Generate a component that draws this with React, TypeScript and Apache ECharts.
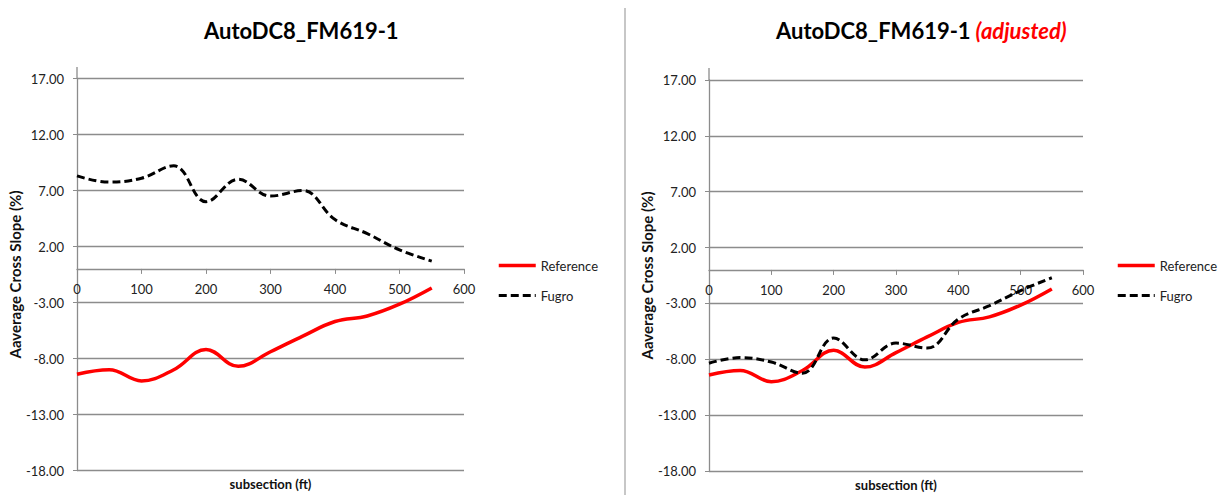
import React, { useEffect, useRef } from "react";
import * as echarts from "echarts";

// Subsection stations (ft)
const subsection = [0, 50, 100, 150, 200, 250, 300, 350, 400, 450, 500, 550];

// Average cross slope (%) per subsection
const referenceSlope = [-9.4, -9.0, -10.0, -9.0, -7.2, -8.7, -7.4, -6.0, -4.7, -4.2, -3.15, -1.7];
const fugroSlope = [8.3, 7.75, 8.1, 9.2, 6.0, 8.0, 6.5, 7.0, 4.4, 3.15, 1.7, 0.7];
const fugroAdjustedSlope = [-8.35, -7.85, -8.25, -9.25, -6.1, -8.05, -6.55, -7.0, -4.4, -3.2, -1.85, -0.7];

// Value-axis range and step
const Y_MIN = -18;
const Y_MAX = 17;
const Y_STEP = 5;

const titleText = "AutoDC8_FM619-1";
const adjustedTag = "(adjusted)";
const yAxisTitle = "Aaverage Cross Slope (%)";
const xAxisTitle = "subsection (ft)";
const seriesNames = ["Reference", "Fugro"];

const FONT = 'Lato, "Open Sans", "Noto Sans", sans-serif';
const GRID_GRAY = "#8c8c8c";

const grids = [
  { left: 77, top: 78.5, width: 387, height: 392 },
  { left: 709, top: 80, width: 374, height: 391 },
];

const pairs = (ys: number[]) => subsection.map((x, i) => [x, ys[i]]);

// Lift the x axis from the grid's bottom edge up to the y = 0 line.
function zeroOffset(g: { height: number }) {
  return -(g.height * (0 - Y_MIN)) / (Y_MAX - Y_MIN);
}

function xAxisFor(gridIndex: number) {
  return {
    type: "value",
    gridIndex,
    min: 0,
    max: 600,
    interval: 100,
    position: "bottom",
    offset: zeroOffset(grids[gridIndex]),
    name: xAxisTitle,
    nameLocation: "middle",
    nameGap: 209,
    nameTextStyle: { fontFamily: FONT, fontWeight: "bold", fontSize: 13, color: "#111" },
    axisLine: { onZero: false, lineStyle: { color: GRID_GRAY, width: 1.3 } },
    axisTick: { show: true, length: 5, lineStyle: { color: GRID_GRAY } },
    axisLabel: { fontFamily: FONT, fontSize: 13, color: "#222", margin: 14 },
    splitLine: { show: false },
  };
}

function yAxisFor(gridIndex: number, nameGap: number) {
  return {
    type: "value",
    gridIndex,
    min: Y_MIN,
    max: Y_MAX,
    interval: Y_STEP,
    name: yAxisTitle,
    nameLocation: "middle",
    nameRotate: 90,
    nameGap,
    nameTextStyle: { fontFamily: FONT, fontWeight: "bold", fontSize: 15, color: "#111" },
    axisLine: { show: true, lineStyle: { color: GRID_GRAY, width: 1.3 } },
    axisTick: { show: true, length: 4, lineStyle: { color: GRID_GRAY } },
    axisLabel: {
      fontFamily: FONT,
      fontSize: 13,
      color: "#222",
      margin: 13,
      formatter: (v: number) => v.toFixed(2),
    },
    splitLine: { show: true, lineStyle: { color: GRID_GRAY, width: 1.3 } },
  };
}

function lineSeries(name: string, ys: number[], idx: number, dashed: boolean) {
  return {
    name,
    type: "line",
    xAxisIndex: idx,
    yAxisIndex: idx,
    data: pairs(ys),
    smooth: 0.4,
    symbol: "none",
    lineStyle: dashed
      ? { color: "#000", width: 3, type: [8, 4] }
      : { color: "#ff0000", width: 3.5 },
    itemStyle: { color: dashed ? "#000" : "#ff0000" },
  };
}

function legendAt(left: number) {
  return {
    orient: "vertical",
    left,
    top: 254,
    itemWidth: 37,
    itemHeight: 14,
    itemGap: 17,
    data: seriesNames,
    itemStyle: { color: "rgba(0,0,0,0)", borderWidth: 0, opacity: 0 },
    lineStyle: { width: "inherit" },
    textStyle: { fontFamily: FONT, fontSize: 13, color: "#222" },
  };
}

export default function App() {
  const ref = useRef<HTMLDivElement>(null);

  useEffect(() => {
    if (!ref.current) return;
    const chart = echarts.init(ref.current, undefined, { renderer: "svg" });
    chart.setOption({
      animation: false,
      backgroundColor: "#ffffff",
      title: [
        {
          text: titleText,
          left: 199,
          top: 14,
          textStyle: { fontFamily: FONT, fontWeight: "bold", fontSize: 22, color: "#000" },
        },
        {
          text: `{a|${titleText}} {b|${adjustedTag}}`,
          left: 771,
          top: 14,
          textStyle: {
            rich: {
              a: { fontFamily: FONT, fontWeight: "bold", fontSize: 22, color: "#000" },
              b: {
                fontFamily: FONT,
                fontWeight: "bold",
                fontStyle: "italic",
                fontSize: 22,
                color: "#ff0000",
              },
            },
          },
        },
      ],
      grid: grids.map((g) => ({ ...g, outerBoundsMode: "none", containLabel: false })),
      xAxis: [xAxisFor(0), xAxisFor(1)],
      yAxis: [yAxisFor(0, 55), yAxisFor(1, 50)],
      legend: [legendAt(492), legendAt(1111)],
      series: [
        lineSeries(seriesNames[0], referenceSlope, 0, false),
        lineSeries(seriesNames[1], fugroSlope, 0, true),
        lineSeries(seriesNames[0], referenceSlope, 1, false),
        lineSeries(seriesNames[1], fugroAdjustedSlope, 1, true),
      ],
      graphic: [
        // panel divider
        {
          type: "line",
          shape: { x1: 625, y1: 8, x2: 625, y2: 495 },
          style: { stroke: "#b5b5b5", lineWidth: 1.5 },
        },
        // value axes run a little past the top gridline
        {
          type: "line",
          shape: { x1: 77, y1: 67, x2: 77, y2: 78.5 },
          style: { stroke: GRID_GRAY, lineWidth: 1.3 },
        },
        {
          type: "line",
          shape: { x1: 709, y1: 68, x2: 709, y2: 80 },
          style: { stroke: GRID_GRAY, lineWidth: 1.3 },
        },
      ],
    });
    return () => chart.dispose();
  }, []);

  return (
    <div
      ref={ref}
      style={{ position: "absolute", left: 0, top: 0, width: 1222, height: 495, background: "#fff" }}
    />
  );
}
